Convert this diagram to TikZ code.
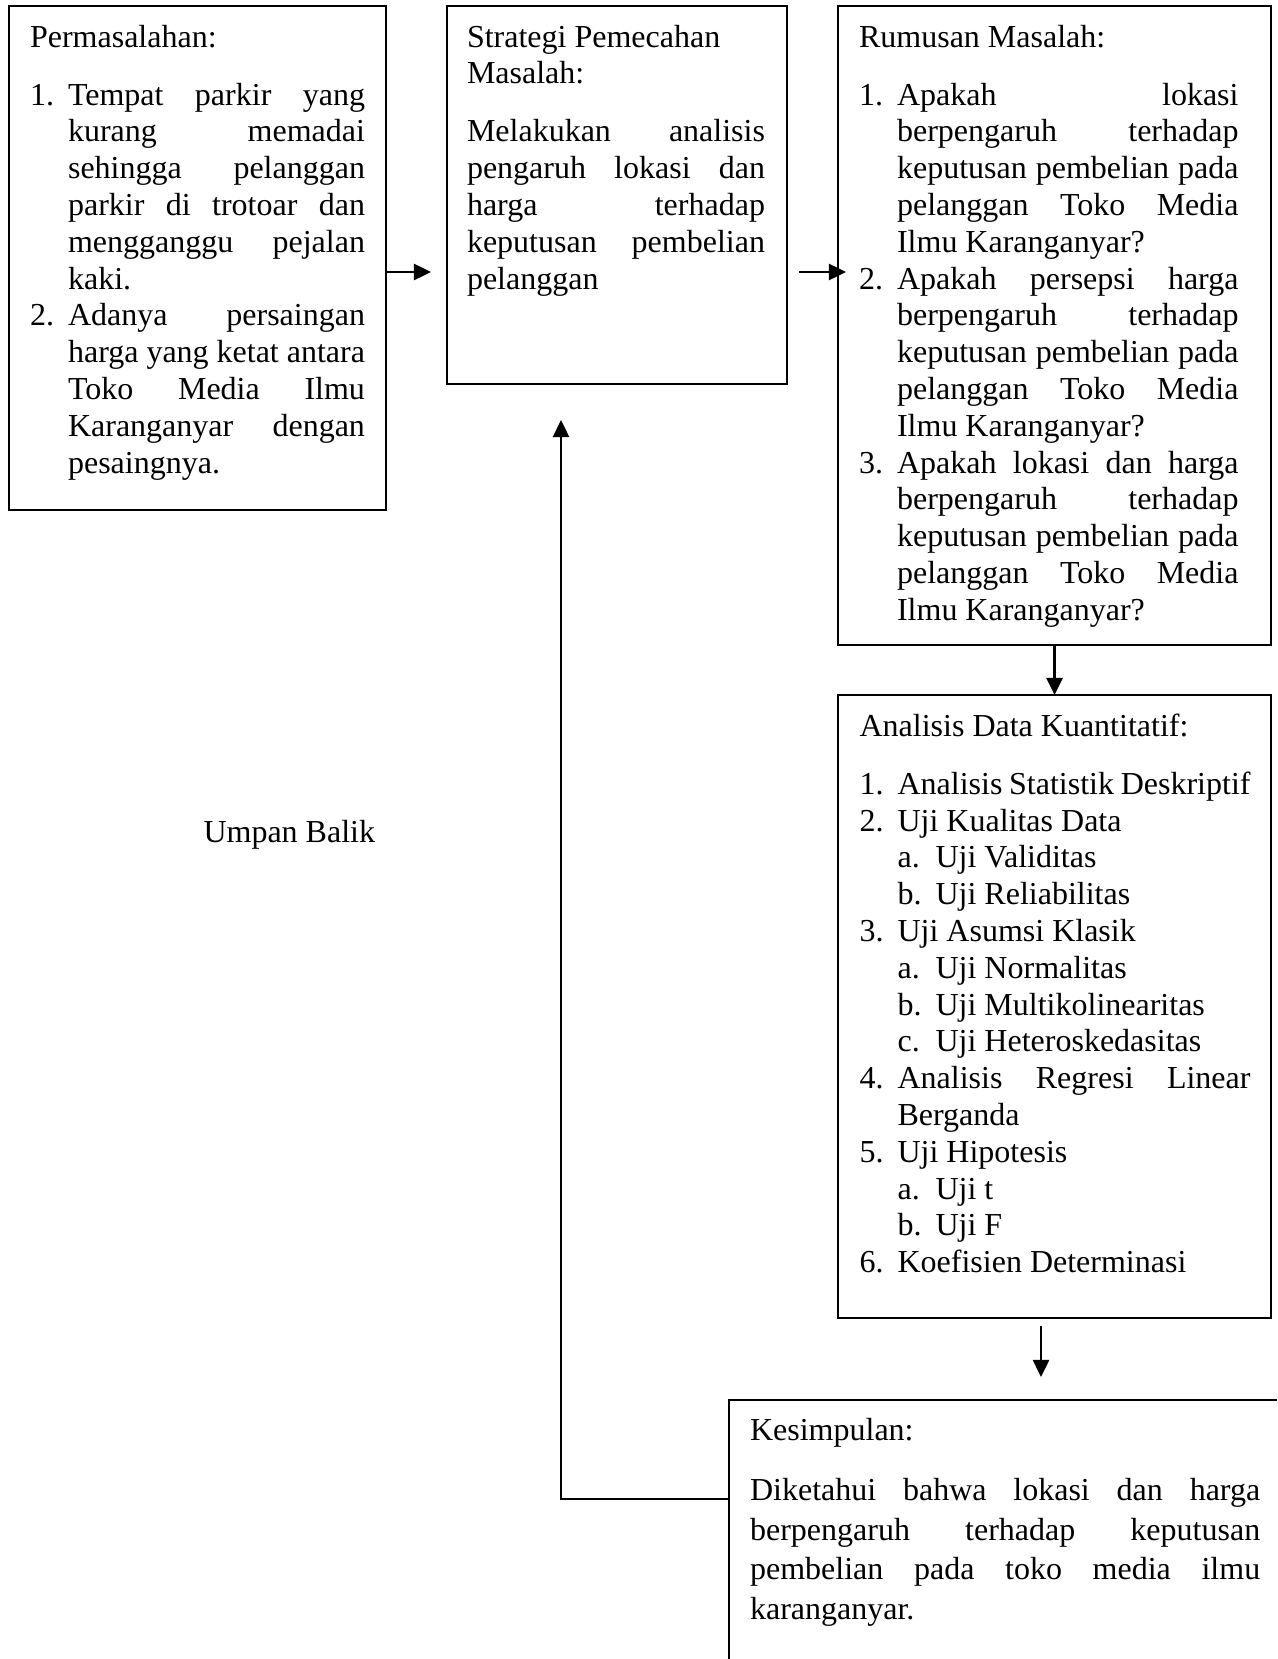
\documentclass[tikz,border=0pt]{standalone}
\usepackage{fontspec}
\setmainfont{Liberation Serif}
\usepackage{tikz}
\usetikzlibrary{arrows.meta,positioning}
\setlength{\parindent}{0pt}
\tolerance=10000 \hbadness=10000
\hyphenpenalty=10000 \exhyphenpenalty=10000
\newlength{\itind}\setlength{\itind}{14.25pt}
\newcommand{\topstrut}{\rule{0pt}{9pt}}
\newcommand{\itm}[2][0pt]{\par\hangindent=\dimexpr#1+\itind\relax\hangafter=1
  \hspace*{#1}\makebox[\itind][l]{#2}\ignorespaces}
\tikzset{
  arr/.style={-{Triangle[length=6.4pt,width=6pt]},line width=1pt},
  boxframe/.style={draw,line width=0.8pt,anchor=north west,
    inner sep=0pt,outer sep=0pt},
  txt/.style={anchor=north west,inner sep=0pt,outer sep=0pt,
    align=justify,font=\fontsize{12}{13.8}\selectfont},
}

\begin{document}
\begin{tikzpicture}[
  x=0.375pt,y=-0.375pt,
  lbl/.style={inner sep=0pt,font=\fontsize{12}{13.8}\selectfont},
]
\clip (0,0) rectangle (1277,1659);

% PERMASALAHAN (left)
\node[boxframe,minimum width=141.4pt,minimum height=189pt] (masalah) at (9,6) {};
\node[txt,text width=125.6pt,below right=6.4pt and 7.9pt of masalah.north west] (masalahTxt) {%
  \topstrut Permasalahan:\par\vspace{8pt}
  \itm{1.}Tempat parkir yang\linebreak
  kurang memadai\linebreak
  sehingga pelanggan\linebreak
  parkir di trotoar dan\linebreak
  mengganggu pejalan\linebreak
  kaki.
  \itm{2.}Adanya persaingan\linebreak
  harga yang ketat antara\linebreak
  Toko Media Ilmu\linebreak
  Karanganyar dengan\linebreak
  pesaingnya.\par};

% STRATEGI (middle)
\node[boxframe,minimum width=127.5pt,minimum height=141.75pt] (strategi) at (447,6) {};
\node[txt,text width=111.75pt,below right=6.4pt and 7.5pt of strategi.north west] (strategiTxt) {%
  \topstrut Strategi Pemecahan\newline Masalah:\par\vspace{8pt}
  Melakukan analisis\linebreak
  pengaruh lokasi dan\linebreak
  harga terhadap\linebreak
  keputusan pembelian\linebreak
  pelanggan\par};

% RUMUSAN MASALAH (right-top)
\node[boxframe,minimum width=162.4pt,minimum height=239.6pt] (rumusan) at (838,6) {};
\node[txt,text width=142.3pt,below right=6.4pt and 7.9pt of rumusan.north west] (rumusanTxt) {%
  \topstrut Rumusan Masalah:\par\vspace{8pt}
  \itm{1.}Apakah lokasi\linebreak
  berpengaruh terhadap\linebreak
  keputusan pembelian pada\linebreak
  pelanggan Toko Media\linebreak
  Ilmu Karanganyar?
  \itm{2.}Apakah persepsi harga\linebreak
  berpengaruh terhadap\linebreak
  keputusan pembelian pada\linebreak
  pelanggan Toko Media\linebreak
  Ilmu Karanganyar?
  \itm{3.}Apakah lokasi dan harga\linebreak
  berpengaruh terhadap\linebreak
  keputusan pembelian pada\linebreak
  pelanggan Toko Media\linebreak
  Ilmu Karanganyar?\par};

% ANALISIS DATA (right-middle)
\node[boxframe,minimum width=162.4pt,minimum height=233.6pt] (analisis) at (838,695) {};
\node[txt,text width=146.6pt,below right=6.4pt and 8.1pt of analisis.north west] (analisisTxt) {%
  \topstrut Analisis Data Kuantitatif:\par\vspace{8pt}
  \itm{1.}Analisis Statistik Deskriptif
  \itm{2.}Uji Kualitas Data
  \itm[\itind]{a.}Uji Validitas
  \itm[\itind]{b.}Uji Reliabilitas
  \itm{3.}Uji Asumsi Klasik
  \itm[\itind]{a.}Uji Normalitas
  \itm[\itind]{b.}Uji Multikolinearitas
  \itm[\itind]{c.}Uji Heteroskedasitas
  \itm{4.}Analisis Regresi Linear\linebreak
  Berganda
  \itm{5.}Uji Hipotesis
  \itm[\itind]{a.}Uji t
  \itm[\itind]{b.}Uji F
  \itm{6.}Koefisien Determinasi\par};

% KESIMPULAN (bottom, runs off the page)
\node[boxframe,minimum width=214pt,minimum height=112.5pt] (kesimpulan) at (729,1400) {};
\node[txt,text width=191.3pt,font=\fontsize{12}{14.8}\selectfont,
  below right=6pt and 7.9pt of kesimpulan.north west] (kesimpulanTxt) {%
  \topstrut Kesimpulan:\par\vspace{8pt}
  Diketahui bahwa lokasi dan harga\linebreak
  berpengaruh terhadap keputusan\linebreak
  pembelian pada toko media ilmu\linebreak
  karanganyar.\par};

% feedback label
\node[lbl,anchor=base west] (umpan) at (203,842) {Umpan Balik};

% Connectors
\coordinate (t1) at (431,272);
\coordinate (t2) at (846,272);
\coordinate (t4) at (1041,1377);
\coordinate (fb) at (561,1499);
\coordinate (t5) at (561,420);
\draw[arr] (masalah.east |- t1) -- (t1);
\draw[arr,shorten <=4.5pt] (strategi.east |- t2) -- (t2);
\draw[arr] (rumusan.south) -- (analisis.north);
\draw[arr,shorten <=3pt] (analisis.south -| t4) -- (t4);
\draw[arr] (kesimpulan.west |- fb) -- (fb) -- (t5);
\end{tikzpicture}
\end{document}
